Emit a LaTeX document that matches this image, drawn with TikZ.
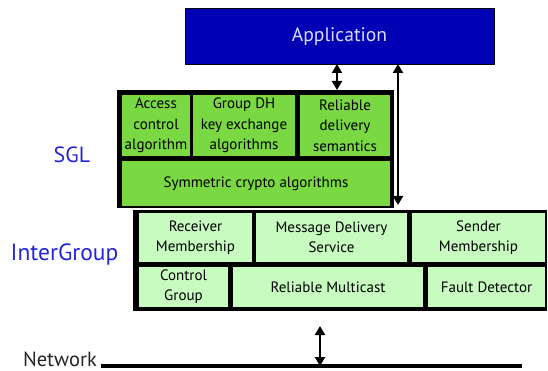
\documentclass[tikz,border=0pt]{standalone}
\usepackage{fontspec}
\setmainfont{PT Sans}
\usetikzlibrary{arrows.meta}
\definecolor{appblue}{HTML}{0000B4}
\definecolor{apptext}{HTML}{DCDCFF}
\definecolor{sglgreen}{HTML}{7AD843}
\definecolor{iggreen}{HTML}{C8FBC0}
\definecolor{lblblue}{HTML}{2424D8}
\tikzset{
  frame/.style={fill=black,draw=none,inner sep=0pt,outer sep=0pt},
  sglcell/.style={fill=sglgreen,draw=none,inner sep=0pt,outer sep=0pt,align=center,
    font=\fontsize{15}{20.5}\selectfont},
  igcell/.style={fill=iggreen,draw=none,inner sep=0pt,outer sep=0pt,align=center,
    font=\fontsize{15}{20}\selectfont},
  layerlbl/.style={text=lblblue},
  dar/.style={line width=2.6pt,{Triangle[width=10pt,length=9pt]}-{Triangle[width=10pt,length=9pt]}},
}
\begin{document}
\begin{tikzpicture}[x=1pt,y=-1pt]
\useasboundingbox (0,0) rectangle (548,371);
% Application
\node[fill=appblue,draw=black,line width=0.8pt,inner sep=0pt,outer sep=0pt,
  minimum width=309pt,minimum height=56pt,text=apptext,font=\fontsize{19.6}{22}\selectfont]
  (app) at (339.5,36) {Application};
% SGL
\node[frame,minimum width=277pt,minimum height=118pt] (sgl) at (255.5,149) {};
\node[sglcell,minimum width=68pt,minimum height=61pt] (acc) at (156,125.5) {Access\\control\\algorithm};
\node[sglcell,minimum width=102pt,minimum height=61pt] (gdh) at (244,125.5) {Group DH\\key exchange\\algorithms};
\node[sglcell,minimum width=90pt,minimum height=61pt] (rds) at (345,125.5) {Reliable\\delivery\\semantics};
\node[sglcell,minimum width=268pt,minimum height=45pt] (sym) at (256,183.5) {Symmetric crypto algorithms};
% InterGroup
\node[frame,minimum width=414pt,minimum height=101pt] (ig) at (340,260.5) {};
\node[igcell,minimum width=113pt,minimum height=49pt] (rm) at (195.5,237.5) {Receiver\\Membership};
\node[igcell,minimum width=151pt,minimum height=49pt] (mds) at (331.5,237.5) {Message Delivery\\Service};
\node[igcell,minimum width=133pt,minimum height=49pt] (sm) at (478.5,237.5) {Sender\\Membership};
\node[igcell,minimum width=89pt,minimum height=40pt] (cg) at (183.5,287) {Control\\Group};
\node[igcell,minimum width=190pt,minimum height=40pt] (rmc) at (328,287) {Reliable Multicast};
\node[igcell,minimum width=117pt,minimum height=40pt] (fd) at (486.5,287) {Fault Detector};
% labels
\node[layerlbl,font=\fontsize{22}{24}\selectfont] (sgllbl) at (72,155) {SGL};
\node[layerlbl,font=\fontsize{23.5}{26}\selectfont] (iglbl) at (64.5,254) {InterGroup};
% network
\coordinate (nl) at (101,366);
\coordinate (nr) at (522,366);
\draw[line width=4pt] (nl) -- (nr);
\node[anchor=east,inner sep=0pt,text=black!85,font=\fontsize{20.5}{22}\selectfont] (net) at (97,359) {Network};
% arrows
\coordinate (a1x) at (337,0);
\coordinate (a2x) at (398,0);
\coordinate (a3t) at (320,326);
\draw[dar] (app.south -| a1x) -- (sgl.north -| a1x);
\draw[dar,shorten >=5pt] (app.south -| a2x) -- (ig.north -| a2x);
\draw[dar] (a3t) -- (nl -| a3t);
\end{tikzpicture}
\end{document}
